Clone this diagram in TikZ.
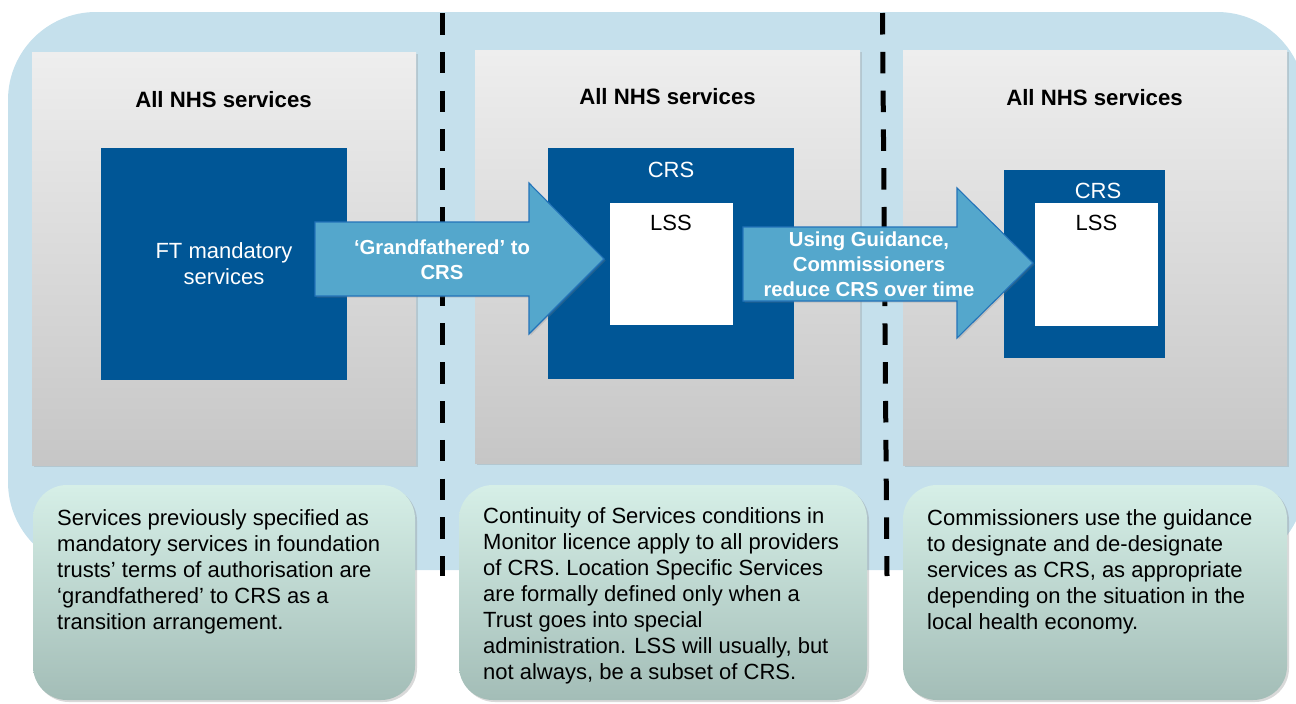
\documentclass[tikz,border=0pt]{standalone}
\usepackage{fontspec}
\setmainfont{Liberation Sans}
\usetikzlibrary{shadows}
\definecolor{bgblue}{RGB}{197,224,236}
\definecolor{darkblue}{RGB}{0,86,150}
\definecolor{arrowfill}{RGB}{84,167,204}
\definecolor{arrowline}{RGB}{35,115,185}
\definecolor{graytop}{RGB}{238,238,238}
\definecolor{graybot}{RGB}{198,198,198}
\definecolor{tealtop}{RGB}{214,239,231}
\definecolor{tealbot}{RGB}{163,189,183}
\begin{document}
\begin{tikzpicture}[x=1pt,y=-1pt,
  divider/.style={line width=5pt, dash pattern=on 21.5pt off 17.3pt},
  panel/.style={rectangle, inner sep=0pt, top color=graytop, bottom color=graybot,
    drop shadow={shadow xshift=1.5pt, shadow yshift=-1.5pt, opacity=0.25}},
  paneltitle/.style={font=\fontsize{22.2pt}{26pt}\selectfont\bfseries, inner sep=0pt},
  dbox/.style={rectangle, inner sep=0pt, fill=darkblue},
  wbox/.style={rectangle, inner sep=0pt, fill=white},
  boxlabel/.style={font=\fontsize{22pt}{26pt}\selectfont, inner sep=0pt, align=center},
  blockarrow/.style={fill=arrowfill, draw=arrowline, line width=1.1pt, line join=miter,
    drop shadow={shadow xshift=1.5pt, shadow yshift=-1.5pt, opacity=0.25}},
  arrowlabel/.style={font=\fontsize{20.3pt}{25pt}\selectfont\bfseries, text=white, inner sep=0pt, align=center},
  note/.style={rectangle, rounded corners=34pt, inner sep=0pt, top color=tealtop, bottom color=tealbot,
    drop shadow={shadow xshift=2pt, shadow yshift=-2pt, opacity=0.3}},
  notetext/.style={font=\fontsize{22pt}{26pt}\selectfont, inner sep=0pt, align=left, anchor=north west}
]
\useasboundingbox (0,0) rectangle (1296,704);
% background
\begin{scope}
\clip (0,0) rectangle (1296,704);
\fill[bgblue, rounded corners=88pt] (8,12) rectangle (1305,570);
\end{scope}
% dividers
\coordinate (d1top) at (442,13);
\coordinate (d1bot) at (442,576);
\coordinate (d2top) at (882.5,13);
\coordinate (d2bot) at (887,576);
\draw[divider] (d1top) -- (d1bot);
\draw[divider] (d2top) -- (d2bot);
% panels
\node[panel, minimum width=384pt, minimum height=413pt] (p1) at (224,258.5) {};
\node[panel, minimum width=385pt, minimum height=413pt] (p2) at (667.5,256.5) {};
\node[panel, minimum width=384pt, minimum height=415pt] (p3) at (1095,257.5) {};
\node[paneltitle] (t1) at (223.5,100) {All NHS services};
\node[paneltitle] (t2) at (667.5,97) {All NHS services};
\node[paneltitle] (t3) at (1094.5,98) {All NHS services};
% panel 1 content
\node[dbox, minimum width=246pt, minimum height=232pt] (b1) at (224,264) {};
\node[boxlabel, text=white] (ft) at (224,264) {FT mandatory\\services};
% panel 2 content
\node[dbox, minimum width=246pt, minimum height=231pt] (b2) at (671,263.5) {};
\node[wbox, minimum width=123pt, minimum height=122pt] (w2) at (671.5,264) {};
\node[boxlabel, text=white] (crs2) at (671,170) {CRS};
\node[boxlabel] (lss2) at (671,223) {LSS};
% panel 3 content
\node[dbox, minimum width=161pt, minimum height=188pt] (b3) at (1084.5,264) {};
\node[wbox, minimum width=123pt, minimum height=123pt] (w3) at (1096.5,264.5) {};
\node[boxlabel, text=white] (crs3) at (1098,190.5) {CRS};
\node[boxlabel] (lss3) at (1096.5,223) {LSS};
% block arrows
\draw[blockarrow] (315,222) -- (529,222) -- (529,183) -- (604,259) -- (529,334) -- (529,296) -- (315,296) -- cycle;
\node[arrowlabel] (a1) at (442,260) {‘Grandfathered’ to\\CRS};
\draw[blockarrow] (743,227) -- (957,227) -- (957,188) -- (1033,263) -- (957,338) -- (957,301) -- (743,301) -- cycle;
\node[arrowlabel] (a2) at (869,264) {Using Guidance,\\Commissioners\\reduce CRS over time};
% notes
\node[note, minimum width=382pt, minimum height=215pt] (n1) at (224,592.5) {};
\node[note, minimum width=408pt, minimum height=215pt] (n2) at (663,592.5) {};
\node[note, minimum width=384pt, minimum height=215pt] (n3) at (1095,592.5) {};
\node[notetext] (n1t) at (57,509) {Services previously specified as\\mandatory services in foundation\\trusts’ terms of authorisation are\\‘grandfathered’ to CRS as a\\transition arrangement.};
\node[notetext] (n2t) at (483,507) {Continuity of Services conditions in\\Monitor licence apply to all providers\\of CRS. Location Specific Services\\are formally defined only when a\\Trust goes into special\\administration. LSS will usually, but\\not always, be a subset of CRS.};
\node[notetext] (n3t) at (927,509) {Commissioners use the guidance\\to designate and de-designate\\services as CRS, as appropriate\\depending on the situation in the\\local health economy.};
\end{tikzpicture}
\end{document}
